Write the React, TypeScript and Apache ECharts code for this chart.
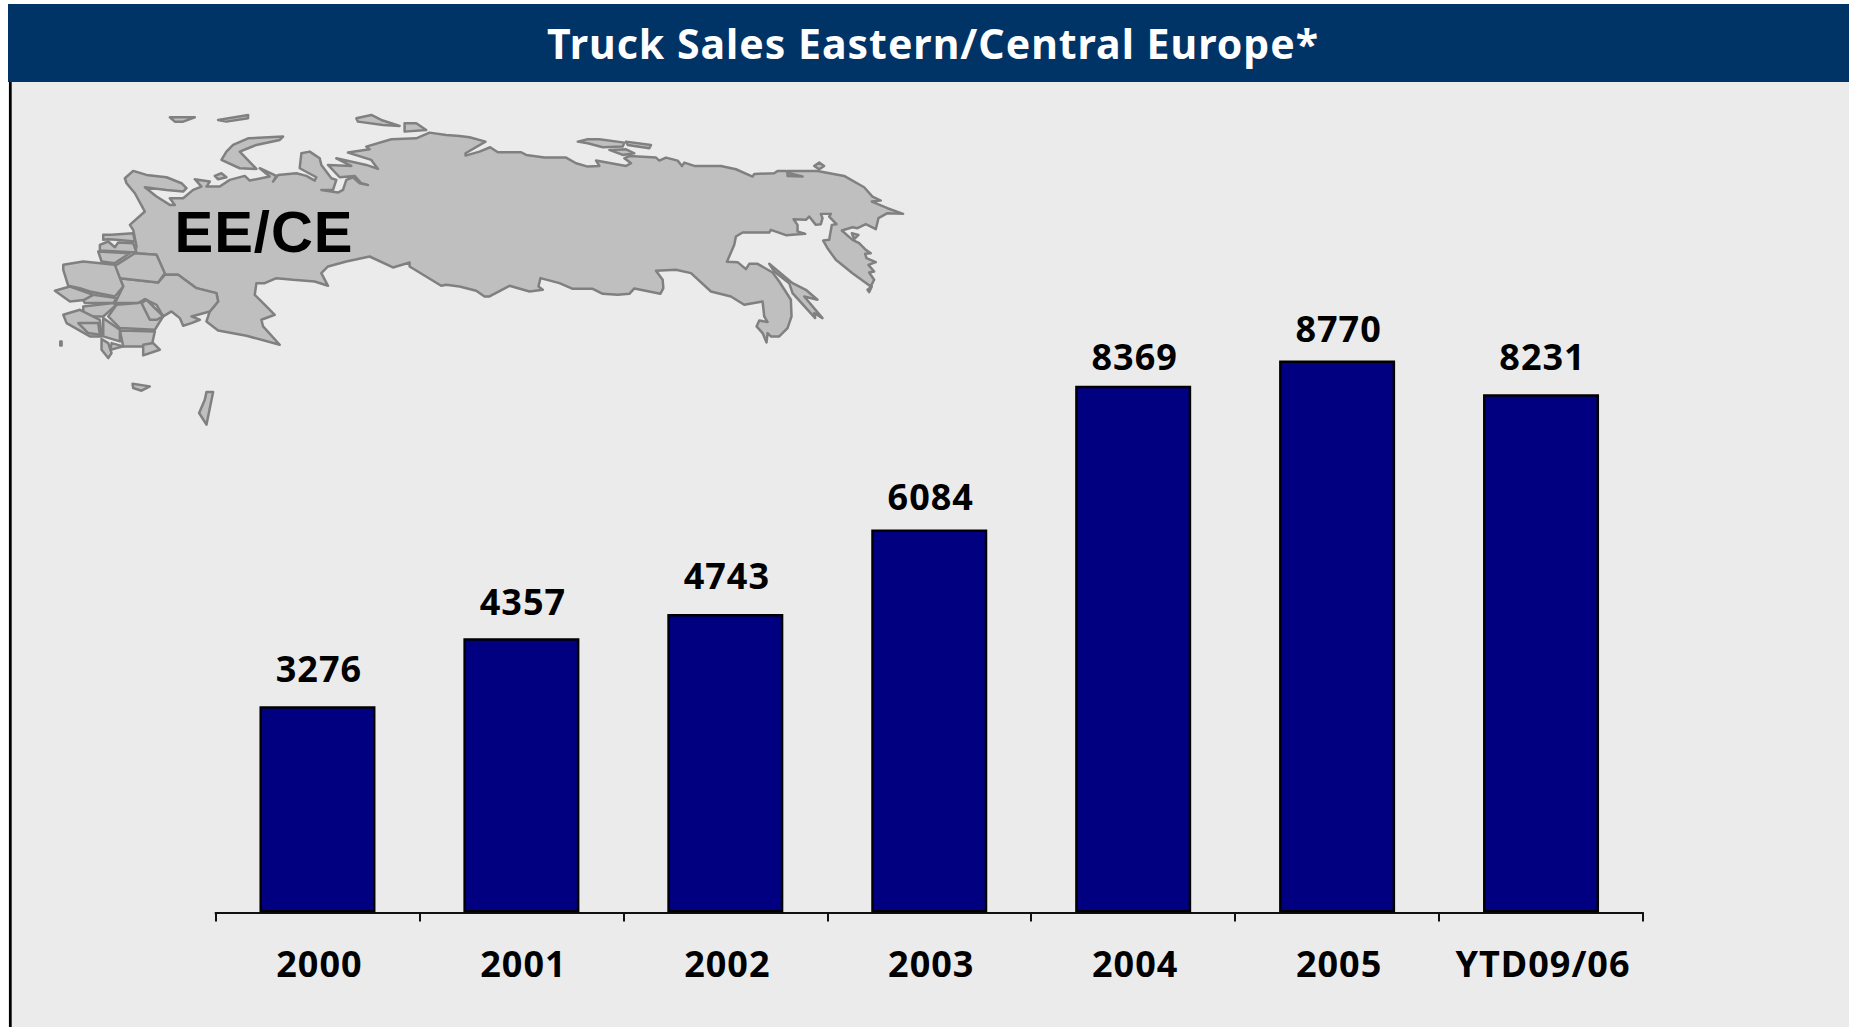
import React, { useEffect, useRef } from "react";
import * as echarts from "echarts";

const titleText = "Truck Sales Eastern/Central Europe*";
const mapLabel = "EE/CE";
const categories = ["2000", "2001", "2002", "2003", "2004", "2005", "YTD09/06"];
const truckSales = [3276, 4357, 4743, 6084, 8369, 8770, 8231];
// Per-label vertical nudge in px: the source places its labels unevenly
const labelNudge = [-2, -1, -2, 3.5, 7, 4.5, -2];

type P = number[];
// Map outline, traced in 3x-crop coordinates
const westCoast: P[] = [[375,265],[400,243],[440,255],[500,262],[545,280],[560,295],[550,305],[500,300],[435,292],[470,320],[510,345],[525,345],[510,325],[550,325],[580,300],[605,290],[585,268],[630,275],[620,290],[660,290],[690,270],[735,258],[750,272],[810,260],[780,235],[830,258],[820,275],[835,255],[890,250],[920,258],[945,272],[950,262],[900,235],[905,190],[930,185],[960,205],[965,225],[995,265],[1010,270],[1000,300],[965,300],[1015,308],[1030,300],[1040,270],[1060,262],[1080,280],[1105,285],[1085,280],[1065,258],[1020,262],[985,225],[1055,228],[1010,205],[1100,225],[1135,237],[1115,210],[1045,188],[1110,178],[1100,170],[1175,148],[1250,145],[1290,128],[1340,135],[1380,138]];
const eastCoast: P[] = [[0,138],[30,142],[78,155],[18,190],[18,197],[60,185],[92,172],[115,187],[185,187],[200,195],[255,203],[320,203],[350,220],[385,230],[420,228],[410,212],[500,228],[515,220],[495,205],[510,198],[590,203],[600,212],[620,203],[655,212],[668,228],[675,218],[705,228],[785,228],[830,238],[880,260],[885,252],[945,250],[955,243],[980,243],[990,250],[1030,260],[985,258],[985,243],[1075,243],[1155,258],[1215,292],[1240,320],[1265,332],[1238,335],[1285,355],[1332,372],[1285,370],[1258,385],[1250,418],[1220,403],[1195,415],[1180,412],[1148,422],[1180,450],[1200,460],[1220,480],[1235,490],[1218,492],[1222,505],[1250,517],[1228,525],[1245,545],[1230,548],[1245,570],[1235,590],[1180,550],[1130,510],[1105,475],[1092,452],[1110,450],[1118,405],[1132,403],[1110,380],[1115,372],[1085,372],[1090,385],[1085,403],[1070,405],[1050,380],[1040,390],[1003,388],[1015,405],[1015,425],[1038,432],[980,436],[935,420],[930,428],[850,428],[830,440],[825,465],[803,516],[835,517],[860,538],[870,522],[895,522],[940,548],[960,575],[995,630],[997,680],[985,715],[960,740],[935,740],[925,730],[922,758],[910,730],[892,710],[900,692],[925,697],[915,680],[910,635],[855,645],[815,620],[755,605],[695,550],[650,540],[590,543],[610,570],[612,595],[603,612],[525,596],[510,612],[475,615],[430,612],[400,597],[340,597],[300,580],[243,565],[237,590],[250,600],[210,605],[150,588],[90,620],[75,620],[50,603],[0,590]];
const southWest: P[] = [[1340,585],[1325,588],[1230,530],[1230,518],[1180,533],[1110,500],[1040,515],[985,530],[965,550],[985,588],[945,575],[880,570],[830,565],[795,580],[770,580],[765,615],[800,650],[825,675],[785,690],[790,710],[840,765],[740,738],[655,722],[620,695],[630,665],[655,635],[650,610],[590,595],[535,555],[495,555],[470,495],[405,490],[410,470],[400,420],[390,405],[435,365],[405,310],[380,280]];
const eastOffset = 1380;
const mainland: P[] = [...westCoast, ...eastCoast.map(([x, y]) => [x + eastOffset, y]), ...southWest];
const shift = (pts: P[]): P[] => pts.map(([x, y]) => [x + eastOffset, y]);
const regions: P[][] = [
  [[360,565],[475,578],[495,555],[535,555],[590,595],[650,610],[655,635],[630,665],[575,680],[600,690],[575,700],[550,708],[540,685],[515,665],[490,680],[470,645],[435,628],[415,640],[345,640],[370,590]],
  [[350,525],[405,490],[470,495],[495,550],[475,578],[360,565],[345,530]],
  [[310,435],[335,435],[400,430],[405,455],[350,450],[325,448],[310,450]],
  [[300,465],[325,455],[345,472],[355,458],[400,460],[410,488],[300,482]],
  [[295,485],[390,490],[345,520],[305,515]],
  [[190,525],[250,515],[345,525],[360,565],[370,590],[345,620],[270,605],[240,595],[205,588],[190,540]],
  [[165,603],[210,590],[280,615],[260,630],[210,635]],
  [[280,615],[350,625],[340,640],[255,640],[250,632]],
  [[250,650],[340,640],[350,645],[310,680],[250,680]],
  [[350,645],[415,640],[440,630],[490,680],[465,720],[360,715],[325,680]],
  [[425,640],[440,630],[490,680],[470,690],[450,690]],
  [[360,722],[465,725],[455,770],[370,770]],
  [[310,685],[360,720],[360,755],[310,740]],
  [[190,675],[240,660],[300,690],[305,740],[270,740],[200,700]],
  [[235,700],[295,700],[300,735],[265,730]],
  [[305,748],[325,760],[335,790],[325,805],[305,780]],
  [[335,760],[370,770],[332,780]],
  [[430,765],[460,760],[480,780],[430,797]],
];
const islands: P[][] = [
  [[398,882],[450,890],[425,903],[400,895]],
  [[620,907],[640,907],[620,1005],[598,970],[615,930]],
  [[181,755],[185,755],[185,767],[181,767]],
  [[665,210],[680,185],[700,165],[745,145],[850,140],[840,150],[770,165],[745,175],[720,185],[770,237],[720,235]],
  [[1070,85],[1115,75],[1145,90],[1200,108],[1150,105],[1075,95]],
  [[1215,100],[1250,100],[1280,120],[1215,125]],
  [[510,82],[585,82],[550,95],[525,95]],
  [[655,90],[745,75],[745,85],[680,95]],
  [[645,258],[665,250],[680,262],[655,268]],
  ...[
    [[355,155],[385,148],[420,148],[495,158],[490,170],[430,172],[385,160]],
    [[500,155],[575,165],[570,175],[505,165]],
    [[450,180],[500,178],[525,190],[490,195]],
    [[1065,228],[1080,218],[1095,228],[1080,238]],
    [[930,522],[1000,580],[1040,600],[1075,630],[1035,620],[1090,685],[1065,670],[1068,685],[1000,610],[990,580],[945,545]],
    [[1225,600],[1238,590],[1230,607]],
    [[1178,430],[1198,435],[1185,448]],
  ].map(shift),
];

export default function App() {
  const ref = useRef<HTMLDivElement>(null);
  useEffect(() => {
    document.body.style.margin = "0";
    document.body.style.background = "#fff";
    const chart = echarts.init(ref.current!, undefined, { renderer: "svg" });
    const mapStyle = { fill: "#bfbfbf", stroke: "#808080", lineWidth: 7.5, lineJoin: "round" };
    const poly = (points: P[]) => ({ type: "polygon", shape: { points }, style: mapStyle });
    chart.setOption({
      animation: false,
      backgroundColor: "#fff",
      grid: { left: 215.5, width: 1427.5, top: 283, height: 629.4, containLabel: false },
      xAxis: {
        type: "category",
        data: categories,
        boundaryGap: true,
        axisLine: { lineStyle: { color: "#111", width: 2 } },
        axisTick: { show: true, length: 9, lineStyle: { color: "#111", width: 2 } },
        axisLabel: {
          color: "#000",
          fontFamily: "Noto Sans",
          fontWeight: "bold",
          fontSize: 36,
          margin: 33,
          interval: 0,
          padding: [0, 0, 0, 4],
        },
      },
      yAxis: { type: "value", min: 0, max: 10000, show: false, splitLine: { show: false } },
      series: [
        {
          type: "bar",
          data: truckSales.map((value, i) => ({ value, label: { offset: [1.5, labelNudge[i]] } })),
          barWidth: 116,
          itemStyle: { color: "#000080", borderColor: "#000", borderWidth: 2.5 },
          label: {
            show: true,
            position: "top",
            distance: 18,
            color: "#000",
            fontFamily: "Noto Sans",
            fontWeight: "bold",
            fontSize: 36,
          },
          z: 3,
        },
      ],
      graphic: [
        { type: "rect", z: 0, shape: { x: 8, y: 4, width: 1841, height: 1023 }, style: { fill: "#ebebeb" } },
        { type: "rect", z: 1, shape: { x: 8, y: 4, width: 1841, height: 78 }, style: { fill: "#003366" } },
        { type: "rect", z: 1, shape: { x: 9, y: 82, width: 2.7, height: 945 }, style: { fill: "#000" } },
        {
          type: "text",
          z: 2,
          x: 933,
          y: 43,
          style: {
            text: titleText,
            fill: "#fff",
            font: "bold 41px 'Noto Sans'",
            align: "center",
            verticalAlign: "middle",
          },
        },
        {
          type: "group",
          z: 1,
          x: 0,
          y: 90,
          scaleX: 1 / 3,
          scaleY: 1 / 3,
          children: [poly(mainland), ...regions.map(poly), ...islands.map(poly)],
        },
        {
          type: "text",
          z: 2,
          x: 264,
          y: 231,
          style: {
            text: mapLabel,
            fill: "#000",
            font: "bold 58px 'Liberation Sans'",
            align: "center",
            verticalAlign: "middle",
          },
        },
      ],
    });
    return () => chart.dispose();
  }, []);
  return <div ref={ref} style={{ width: 1849, height: 1027, letterSpacing: "1px" }} />;
}
